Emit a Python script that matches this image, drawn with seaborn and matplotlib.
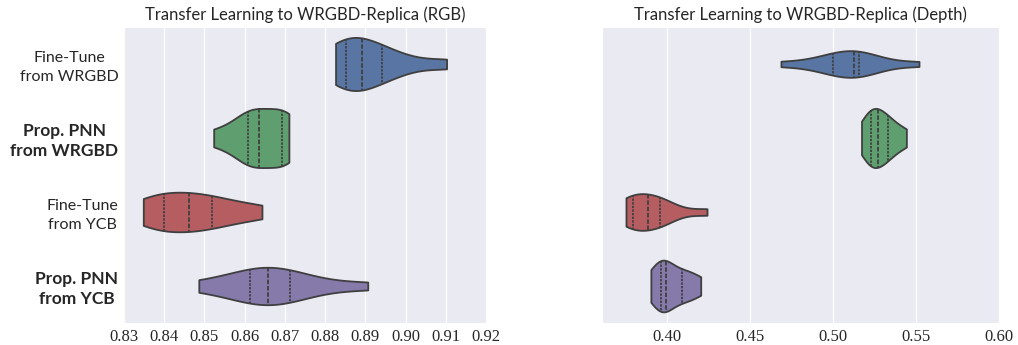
import numpy as np
import pandas as pd
import seaborn as sns
import matplotlib.pyplot as plt

methods = ['Fine-Tune\nfrom WRGBD', 'Prop. PNN\nfrom WRGBD', 'Fine-Tune\nfrom YCB', 'Prop. PNN\nfrom YCB']
colors = ['#4C72B0', '#55A868', '#C44E52', '#8172B2']

# accuracy samples (10 runs each)
rgb_ft_wrgbd = [0.8826, 0.8838, 0.8848, 0.8862, 0.8884, 0.8898, 0.8926, 0.8946, 0.8995, 0.9102]
rgb_pnn_wrgbd = [0.8523, 0.8580, 0.8603, 0.8620, 0.8630, 0.8640, 0.8688, 0.8695, 0.8702, 0.8710]
rgb_ft_ycb = [0.8348, 0.8368, 0.8392, 0.8420, 0.8452, 0.8470, 0.8512, 0.8522, 0.8580, 0.8643]
rgb_pnn_ycb = [0.8486, 0.8570, 0.8605, 0.8637, 0.8650, 0.8668, 0.8700, 0.8717, 0.8780, 0.8906]

depth_ft_wrgbd = [0.4687, 0.4930, 0.4985, 0.5045, 0.5115, 0.5137, 0.5148, 0.5156, 0.5250, 0.5518]
depth_pnn_wrgbd = [0.5172, 0.5210, 0.5222, 0.5246, 0.5262, 0.5282, 0.5320, 0.5332, 0.5380, 0.5442]
depth_ft_ycb = [0.3754, 0.3770, 0.3788, 0.3812, 0.3870, 0.3898, 0.3950, 0.3963, 0.4020, 0.4242]
depth_pnn_ycb = [0.3904, 0.3945, 0.3958, 0.3982, 0.3992, 0.4004, 0.4080, 0.4093, 0.4150, 0.4204]

rgb_ticks = [0.83, 0.84, 0.85, 0.86, 0.87, 0.88, 0.89, 0.90, 0.91, 0.92]
depth_ticks = [0.40, 0.45, 0.50, 0.55, 0.60]


def long_df(groups):
    rows = []
    for m, vals in zip(methods, groups):
        for v in vals:
            rows.append({'method': m, 'acc': v})
    return pd.DataFrame(rows)


df_rgb = long_df([rgb_ft_wrgbd, rgb_pnn_wrgbd, rgb_ft_ycb, rgb_pnn_ycb])
df_depth = long_df([depth_ft_wrgbd, depth_pnn_wrgbd, depth_ft_ycb, depth_pnn_ycb])

sns.set_style('darkgrid')
plt.rcParams['font.family'] = ['Lato', 'DejaVu Sans']

fig = plt.figure(figsize=(10.18, 3.45), dpi=100)
ax1 = fig.add_axes([0.1218, 0.0638, 0.3556, 0.858])
ax2 = fig.add_axes([0.5914, 0.0638, 0.390, 0.858])

for ax, df, ticks, lim, title in [
    (ax1, df_rgb, rgb_ticks, (0.83, 0.92), 'Transfer Learning to WRGBD-Replica (RGB)'),
    (ax2, df_depth, depth_ticks, (0.361, 0.60), 'Transfer Learning to WRGBD-Replica (Depth)'),
]:
    sns.violinplot(data=df, x='acc', y='method', hue='method', palette=colors, order=methods,
                   hue_order=methods, inner='quart', cut=0, orient='h', linewidth=1.3,
                   linecolor='#3f3f3f', saturation=0.75, common_norm=True, legend=False, ax=ax)
    ax.set_xlim(*lim)
    ax.set_ylim(3.5, -0.5)
    ax.set_xticks(ticks)
    ax.set_xticklabels(['%.2f' % t for t in ticks], family='Liberation Serif', fontsize=12)
    ax.set_xlabel('')
    ax.set_ylabel('')
    ax.set_title(title, fontsize=12, pad=5)
    ax.tick_params(axis='both', length=0, pad=4)

ax1.set_yticks(range(4))
ax1.set_yticklabels(methods, multialignment='center', fontsize=11.5, linespacing=1.4)
for i, lbl in enumerate(ax1.get_yticklabels()):
    if i % 2 == 1:
        lbl.set_fontweight('bold')
        lbl.set_fontsize(12.5)
        lbl.set_linespacing(1.3)
ax2.set_yticks(range(4))
ax2.set_yticklabels([])

fig.savefig('out.png', dpi=100)
